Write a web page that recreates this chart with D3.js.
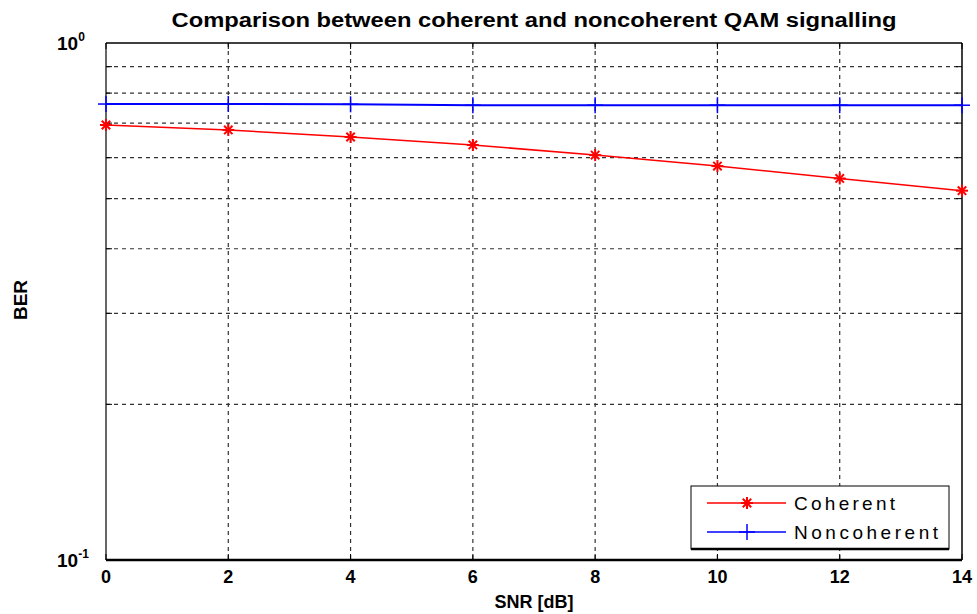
<!DOCTYPE html>
<html>
<head>
<meta charset="utf-8">
<script src="https://cdn.jsdelivr.net/npm/d3@7"></script>
<style>
  body { margin: 0; background: #fff; }
  svg { font-family: "Liberation Sans", Arial, sans-serif; }
</style>
</head>
<body>
<svg width="977" height="614"></svg>
<script>
const snr = [0, 2, 4, 6, 8, 10, 12, 14];
const coherent = [0.694, 0.679, 0.658, 0.635, 0.607, 0.578, 0.547, 0.518];
const noncoherent = [0.762, 0.762, 0.761, 0.758, 0.758, 0.758, 0.758, 0.758];
const xTicks = [0, 2, 4, 6, 8, 10, 12, 14];
const yMinor = [0.2, 0.3, 0.4, 0.5, 0.6, 0.7, 0.8, 0.9];

const svg = d3.select("svg");
const margin = { top: 43, right: 15, bottom: 54, left: 106 };
const width = +svg.attr("width") - margin.left - margin.right;
const height = +svg.attr("height") - margin.top - margin.bottom;

const x = d3.scaleLinear().domain([0, 14]).range([margin.left, margin.left + width]);
const y = d3.scaleLog().domain([0.1, 1]).range([margin.top + height, margin.top]);

const g = svg.append("g");

// grid
g.append("g").selectAll("line").data(yMinor).join("line")
    .attr("x1", x(0)).attr("x2", x(14))
    .attr("y1", d => y(d)).attr("y2", d => y(d))
    .attr("stroke", "#333").attr("stroke-width", 1.2).attr("stroke-dasharray", "4,4");
g.append("g").selectAll("line").data(xTicks.slice(1, -1)).join("line")
    .attr("x1", d => x(d)).attr("x2", d => x(d))
    .attr("y1", y(1)).attr("y2", y(0.1))
    .attr("stroke", "#333").attr("stroke-width", 1.2).attr("stroke-dasharray", "4,4");

// tick marks
const tk = 6;
g.append("g").selectAll("line").data(yMinor).join("line")
    .attr("x1", x(0)).attr("x2", x(0) + tk)
    .attr("y1", d => y(d)).attr("y2", d => y(d)).attr("stroke", "#000");
g.append("g").selectAll("line").data(yMinor).join("line")
    .attr("x1", x(14)).attr("x2", x(14) - tk)
    .attr("y1", d => y(d)).attr("y2", d => y(d)).attr("stroke", "#000");
g.append("g").selectAll("line").data(xTicks).join("line")
    .attr("x1", d => x(d)).attr("x2", d => x(d))
    .attr("y1", y(0.1)).attr("y2", y(0.1) - tk).attr("stroke", "#000");
g.append("g").selectAll("line").data(xTicks).join("line")
    .attr("x1", d => x(d)).attr("x2", d => x(d))
    .attr("y1", y(1)).attr("y2", y(1) + tk).attr("stroke", "#000");

// axes frame
g.append("line").attr("x1", x(0)).attr("x2", x(14)).attr("y1", y(1)).attr("y2", y(1))
    .attr("stroke", "#000").attr("stroke-width", 1.5);
g.append("line").attr("x1", x(0)).attr("x2", x(14)).attr("y1", y(0.1)).attr("y2", y(0.1))
    .attr("stroke", "#000").attr("stroke-width", 2.5);
g.append("line").attr("x1", x(0)).attr("x2", x(0)).attr("y1", y(1)).attr("y2", y(0.1))
    .attr("stroke", "#000").attr("stroke-width", 1.2);
g.append("line").attr("x1", x(14)).attr("x2", x(14)).attr("y1", y(1)).attr("y2", y(0.1))
    .attr("stroke", "#000").attr("stroke-width", 1.5);

// x tick labels
g.append("g").selectAll("text").data(xTicks).join("text")
    .attr("x", d => x(d)).attr("y", y(0.1) + 23)
    .attr("text-anchor", "middle").attr("font-size", 18).attr("font-weight", "bold")
    .text(d => d);

// y tick labels
[[1, "0"], [0.1, "-1"]].forEach(([v, e]) => {
    const t = g.append("text").attr("x", 57).attr("y", y(v) + 7)
        .attr("font-size", 19).attr("font-weight", "bold");
    t.append("tspan").text("10");
    t.append("tspan").attr("dy", -9).attr("font-size", 12).text(e);
});

// title & labels
svg.append("text").attr("x", x(7)).attr("y", 27).attr("text-anchor", "middle")
    .attr("font-size", 20).attr("font-weight", "bold")
    .attr("textLength", 725).attr("lengthAdjust", "spacingAndGlyphs")
    .text("Comparison between coherent and noncoherent QAM signalling");
svg.append("text").attr("x", x(7)).attr("y", 608).attr("text-anchor", "middle")
    .attr("font-size", 18).attr("font-weight", "bold").text("SNR [dB]");
svg.append("text").attr("transform", `translate(27,300) rotate(-90)`)
    .attr("text-anchor", "middle").attr("font-size", 18).attr("font-weight", "bold")
    .attr("textLength", 40).attr("lengthAdjust", "spacingAndGlyphs").text("BER");

// series
const line = d3.line().x((d, i) => x(snr[i])).y(d => y(d));
const plot = svg.append("g");

function star(sel, cx, cy, color) {
    const r = 6;
    [[-r, 0, r, 0], [0, -r, 0, r], [-r * 0.7, -r * 0.7, r * 0.7, r * 0.7], [-r * 0.7, r * 0.7, r * 0.7, -r * 0.7]]
        .forEach(([a, b, c, d]) => sel.append("line")
            .attr("x1", cx + a).attr("y1", cy + b).attr("x2", cx + c).attr("y2", cy + d)
            .attr("stroke", color).attr("stroke-width", 2));
}
function plus(sel, cx, cy, color) {
    const r = 8;
    sel.append("line").attr("x1", cx - r).attr("x2", cx + r).attr("y1", cy).attr("y2", cy)
        .attr("stroke", color).attr("stroke-width", 1.5);
    sel.append("line").attr("x1", cx).attr("x2", cx).attr("y1", cy - r).attr("y2", cy + r)
        .attr("stroke", color).attr("stroke-width", 1.5);
}

plot.append("path").datum(noncoherent).attr("d", line)
    .attr("fill", "none").attr("stroke", "#0000ff").attr("stroke-width", 2);
noncoherent.forEach((v, i) => plus(plot, x(snr[i]), y(v), "#0000ff"));

plot.append("path").datum(coherent).attr("d", line)
    .attr("fill", "none").attr("stroke", "#ff0000").attr("stroke-width", 1.5);
coherent.forEach((v, i) => star(plot, x(snr[i]), y(v), "#ff0000"));

// legend
const lg = svg.append("g");
lg.append("rect").attr("x", 691).attr("y", 486).attr("width", 258).attr("height", 63)
    .attr("fill", "#fff").attr("stroke", "#000").attr("stroke-width", 1);
lg.append("line").attr("x1", 691).attr("x2", 949).attr("y1", 549).attr("y2", 549)
    .attr("stroke", "#000").attr("stroke-width", 2.5);
const items = [["Coherent", "#ff0000", star, 503, 101], ["Noncoherent", "#0000ff", plus, 532, 144]];
items.forEach(([name, color, mk, ly, len]) => {
    lg.append("line").attr("x1", 707).attr("x2", 786).attr("y1", ly).attr("y2", ly)
        .attr("stroke", color).attr("stroke-width", 1.5);
    mk(lg, 747, ly, color);
    lg.append("text").attr("x", 794).attr("y", ly + 7).attr("font-size", 19)
        .attr("textLength", len).attr("lengthAdjust", "spacing").text(name);
});
</script>
</body>
</html>
